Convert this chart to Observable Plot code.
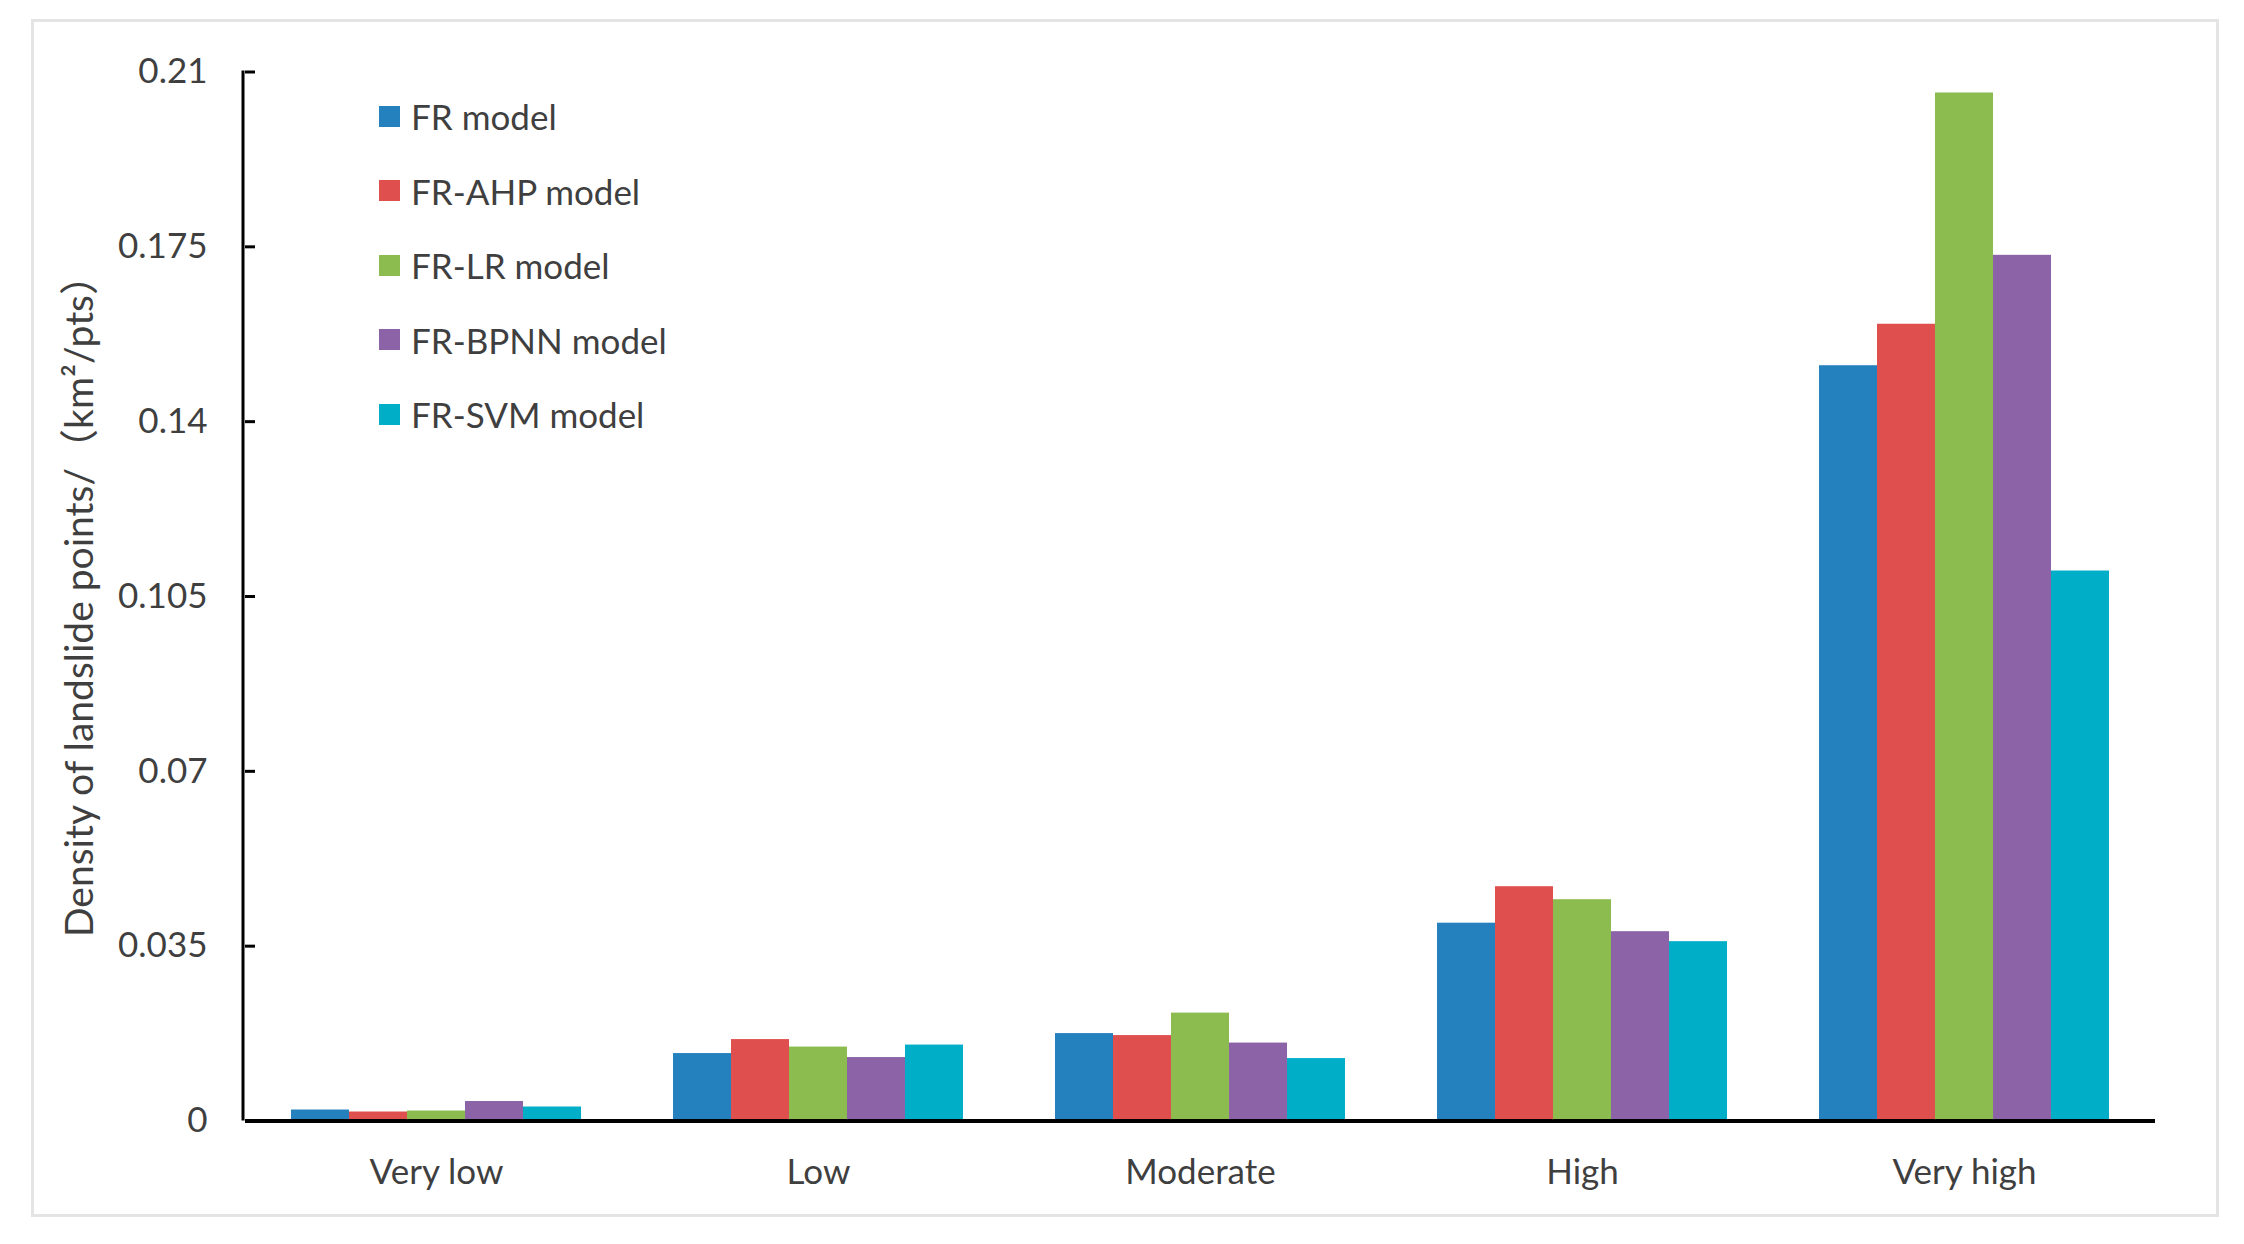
<!DOCTYPE html>
<html><head><meta charset="utf-8">
<script src="https://cdn.jsdelivr.net/npm/d3@7"></script>
<script src="https://cdn.jsdelivr.net/npm/@observablehq/plot@0.6"></script>
<style>
html,body{margin:0;padding:0;background:#fff;}
#wrap{position:relative;width:2244px;height:1244px;overflow:hidden;}
#border{position:absolute;left:31px;top:19px;width:2188px;height:1198px;border:3px solid #e4e4e4;box-sizing:border-box;pointer-events:none;}
#legend{position:absolute;left:379px;top:79px;font-family:Lato,"Noto Sans CJK SC",sans-serif;font-size:35px;color:#3f3f3f;}
.item{display:flex;align-items:center;height:74.5px;}
.sw{width:21px;height:21px;margin-right:11px;}
</style>
</head><body>
<div id="wrap"><div id="chart"></div><div id="legend"></div><div id="border"></div></div>
<script>
const categories = ["Very low", "Low", "Moderate", "High", "Very high"];
const models = ["FR model", "FR-AHP model", "FR-LR model", "FR-BPNN model", "FR-SVM model"];
const frValues     = [0.0022, 0.0135, 0.0175, 0.0396, 0.1512];
const frAhpValues  = [0.0018, 0.0163, 0.0171, 0.0469, 0.1595];
const frLrValues   = [0.0020, 0.0148, 0.0216, 0.0443, 0.2058];
const frBpnnValues = [0.0039, 0.0127, 0.0156, 0.0379, 0.1733];
const frSvmValues  = [0.0028, 0.0152, 0.0125, 0.0359, 0.1101];
const colors = ["#2580BE", "#DE4F4D", "#8CBB4F", "#8B63A6", "#00AEC8"];
const yTicks = [0, 0.035, 0.07, 0.105, 0.14, 0.175, 0.21];
const yLabel = "Density of landslide points/（km²/pts）";

const series = [frValues, frAhpValues, frLrValues, frBpnnValues, frSvmValues];
const rows = [];
categories.forEach((c, i) => models.forEach((m, j) => rows.push({category: c, model: m, value: series[j][i]})));

const marginLeft = 243;
const chart = Plot.plot({
  width: 2244, height: 1244,
  marginLeft, marginRight: 87, marginTop: 71.5, marginBottom: 123.5,
  style: {fontFamily: 'Lato, "Noto Sans CJK SC", sans-serif', fontSize: "35px", color: "#3f3f3f", background: "transparent", overflow: "visible"},
  fx: {domain: categories, padding: 0, label: null, tickSize: 0, tickPadding: 38},
  x: {domain: models, axis: null, paddingInner: 0, paddingOuter: 0.76},
  y: {domain: [0, 0.21]},
  color: {domain: models, range: colors},
  marks: [
    Plot.barY(rows, {fx: "category", x: "model", y: "value", fill: "model"}),
    Plot.axisY({ticks: yTicks, tickFormat: d => String(+d.toFixed(3)), tickSize: -10, tickPadding: 48,
      stroke: "#000", strokeWidth: 3, fill: "#3f3f3f",
      label: yLabel, labelArrow: "none", labelAnchor: "center", labelOffset: 180}),
    Plot.ruleY([0], {stroke: "#000", strokeWidth: 4})
  ]
});
// strip any arrow glyph added to the axis label, and size the label
d3.select(chart).selectAll("text").each(function() {
  const t = this.textContent;
  if (t.includes(yLabel)) {
    if (t !== yLabel) {
      const ts = d3.select(this).selectAll("tspan");
      ts.size() ? ts.text(yLabel) : d3.select(this).text(yLabel);
    }
    d3.select(this).style("font-size", "39px");
  }
});
// left axis line from the y scale
const y = chart.scale("y");
d3.select(chart).append("line")
  .attr("x1", marginLeft).attr("x2", marginLeft)
  .attr("y1", y.apply(yTicks[yTicks.length - 1]) - 1).attr("y2", y.apply(yTicks[0]))
  .attr("stroke", "#000").attr("stroke-width", 3);
document.getElementById("chart").appendChild(chart);

const legend = document.getElementById("legend");
models.forEach((m, j) => {
  const it = document.createElement("div"); it.className = "item";
  const sw = document.createElement("div"); sw.className = "sw"; sw.style.background = colors[j];
  const tx = document.createElement("span"); tx.textContent = m;
  it.appendChild(sw); it.appendChild(tx); legend.appendChild(it);
});
</script>
</body></html>
